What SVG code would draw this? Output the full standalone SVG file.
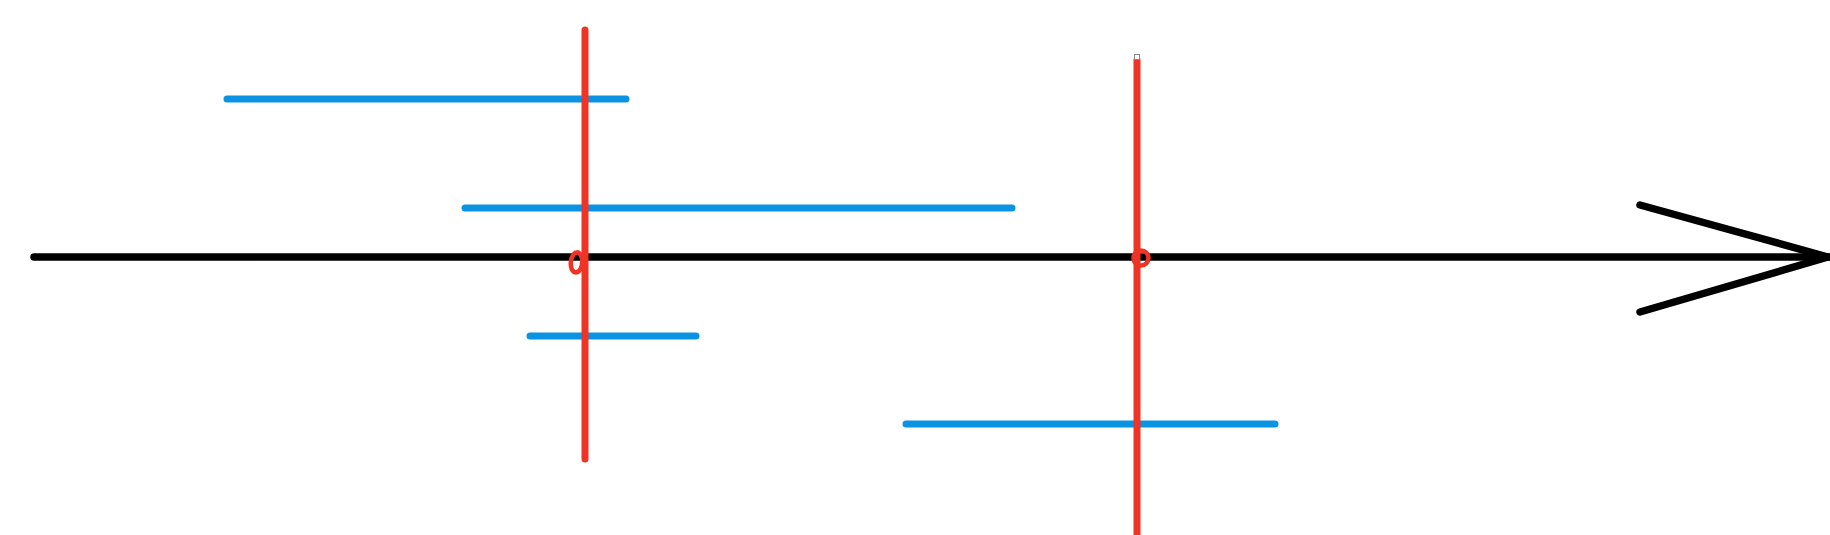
<svg xmlns="http://www.w3.org/2000/svg" width="1830" height="535" viewBox="0 0 1830 535">
<style>
.k{stroke:#000;stroke-width:7.5;stroke-linecap:round;fill:none}
.b{stroke:#0a93e2;stroke-width:7;stroke-linecap:round;fill:none}
.r{stroke:#ef3426;stroke-width:7;stroke-linecap:round;fill:none}
.r2{stroke:#ef3426;stroke-width:4.5;fill:none}
</style>
<rect width="1830" height="535" fill="#fff"/>
<g id="axis">
<line class="k" x1="34" y1="257" x2="1828" y2="257"/>
<line class="k" x1="1640" y1="205" x2="1828" y2="257"/>
<line class="k" x1="1640" y1="312" x2="1828" y2="257"/>
</g>
<g id="blue-segments">
<line class="b" x1="227" y1="99" x2="626" y2="99"/>
<line class="b" x1="465" y1="208" x2="1012" y2="208"/>
<line class="b" x1="530" y1="336" x2="696" y2="336"/>
<line class="b" x1="906" y1="424" x2="1275" y2="424"/>
</g>
<g id="red-lines">
<line class="r" x1="585" y1="30" x2="585" y2="459"/>
<path class="r2" d="M576 252 C570 256 569 268 574 272 C580 274 583 266 582 258 C580 252 577 251 575 254"/>
<line class="r" x1="1137" y1="60" x2="1137" y2="535" stroke-linecap="butt"/>
<circle class="r2" cx="1141" cy="258" r="7.5"/>
<rect x="1134.5" y="54.5" width="5" height="5" fill="#fff" stroke="#888" stroke-width="1"/>
</g>
</svg>
